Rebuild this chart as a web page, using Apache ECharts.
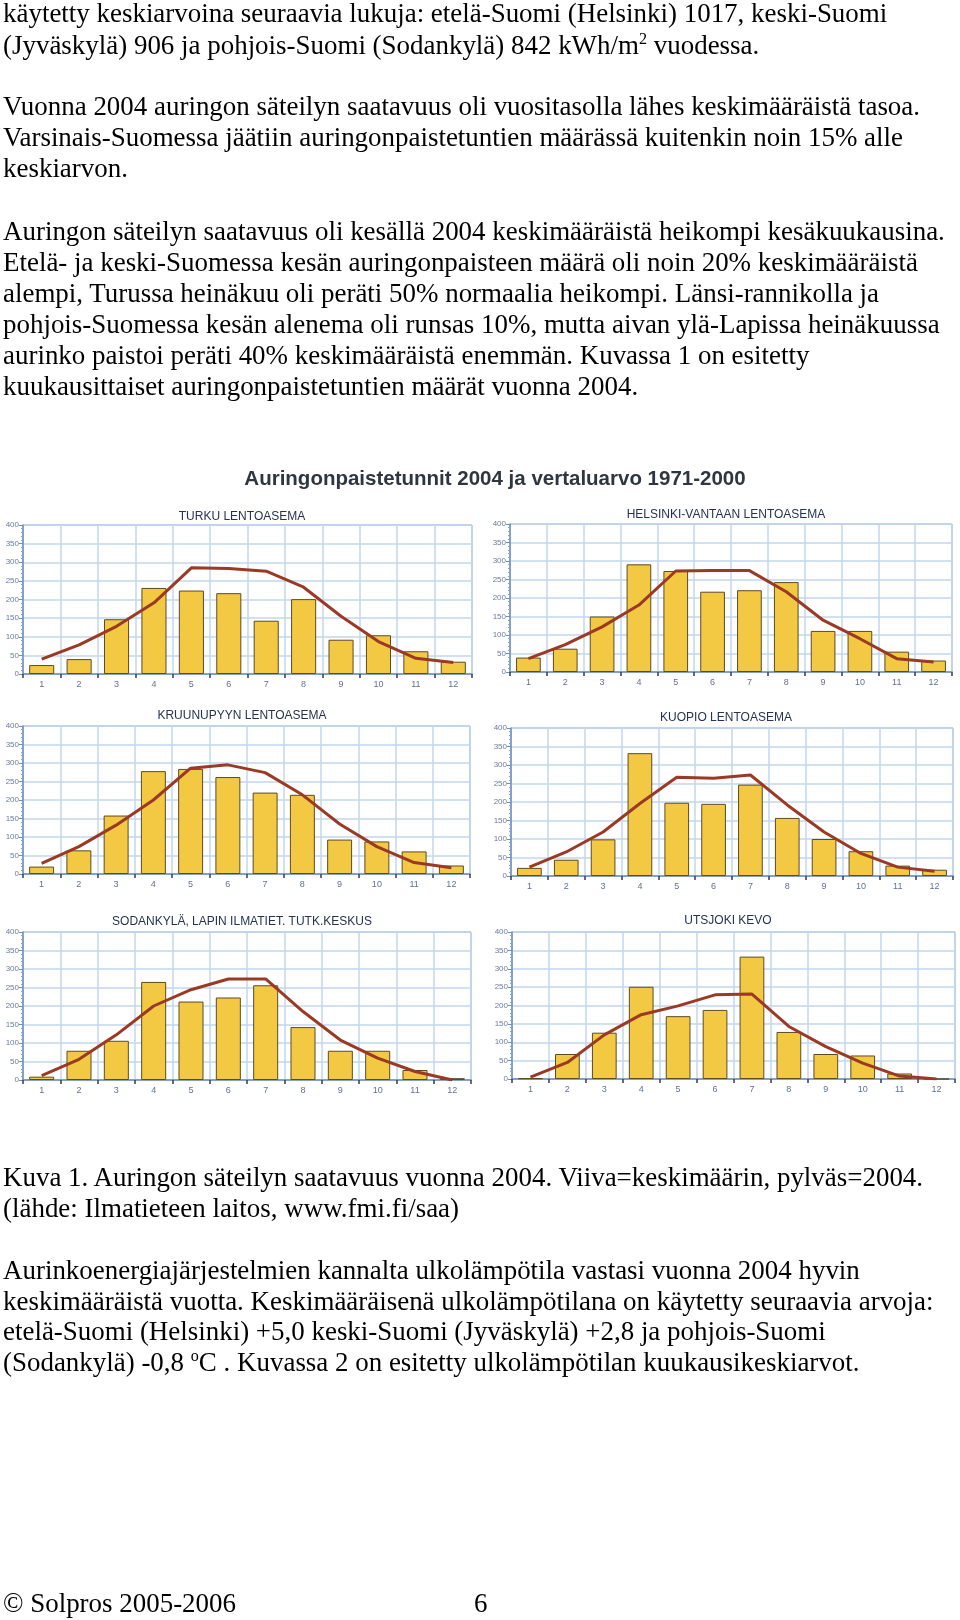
<!DOCTYPE html>
<html>
<head>
<meta charset="utf-8">
<script src="https://cdn.jsdelivr.net/npm/echarts@6/dist/echarts.min.js"></script>
<style>
  html, body { margin: 0; padding: 0; background: #fff; }
  #page { position: relative; width: 960px; height: 1620px; overflow: hidden; }
  #chart { position: absolute; left: 0; top: 0; width: 960px; height: 1620px; }
  .ln { position: absolute; left: 3px; white-space: nowrap; font-family: "Liberation Serif", "DejaVu Serif", serif; color: #000; line-height: 30px; height: 30px; }
  .ln sup { font-size: 60%; line-height: 0; vertical-align: 0.6em; }
</style>
</head>
<body>
<div id="page">
  <div id="chart"></div>
</div>
<script>
// ---------- data ----------
const months = ['1','2','3','4','5','6','7','8','9','10','11','12'];
const yTicks = [0, 50, 100, 150, 200, 250, 300, 350, 400];

const mainTitle = 'Auringonpaistetunnit 2004 ja vertaluarvo 1971-2000';
const stations = ['TURKU LENTOASEMA', 'HELSINKI-VANTAAN LENTOASEMA', 'KRUUNUPYYN LENTOASEMA',
                  'KUOPIO LENTOASEMA', 'SODANKYLÄ, LAPIN ILMATIET. TUTK.KESKUS', 'UTSJOKI KEVO'];

// bars = 2004 sunshine hours, line = 1971-2000 mean
const turku2004     = [24, 40, 147, 231, 224, 217, 143, 201, 92, 104, 61, 33];
const turkuMean     = [40, 78, 128, 191, 285, 283, 276, 233, 155, 87, 42, 31];
const helsinki2004  = [39, 63, 150, 291, 273, 217, 221, 243, 111, 111, 55, 31];
const helsinkiMean  = [36, 74, 122, 181, 273, 274, 274, 217, 140, 90, 36, 27];
const kruunupyy2004 = [20, 64, 158, 278, 284, 262, 220, 214, 93, 88, 61, 23];
const kruunupyyMean = [29, 74, 132, 200, 286, 295, 274, 214, 135, 74, 31, 17];
const kuopio2004    = [22, 44, 99, 332, 198, 195, 247, 157, 100, 67, 28, 17];
const kuopioMean    = [24, 65, 119, 196, 267, 264, 273, 192, 119, 61, 24, 13];
const sodankyla2004 = [9, 79, 106, 265, 212, 223, 256, 143, 79, 79, 27, 5];
const sodankylaMean = [12, 56, 122, 200, 244, 273, 273, 185, 108, 59, 23, 0];
const utsjoki2004   = [2, 68, 126, 251, 171, 188, 333, 128, 68, 64, 15, 0];
const utsjokiMean   = [5, 45, 120, 175, 199, 229, 231, 143, 88, 43, 8, 0];

const bars2004 = [turku2004, helsinki2004, kruunupyy2004, kuopio2004, sodankyla2004, utsjoki2004];
const means = [turkuMean, helsinkiMean, kruunupyyMean, kuopioMean, sodankylaMean, utsjokiMean];

// ---------- document text ----------
const textTop = [
  'käytetty keskiarvoina seuraavia lukuja: etelä-Suomi (Helsinki) 1017, keski-Suomi',
  '(Jyväskylä) 906 ja pohjois-Suomi (Sodankylä) 842 kWh/m^2^ vuodessa.',
  'Vuonna 2004 auringon säteilyn saatavuus oli vuositasolla lähes keskimääräistä tasoa.',
  'Varsinais-Suomessa jäätiin auringonpaistetuntien määrässä kuitenkin noin 15% alle',
  'keskiarvon.',
  'Auringon säteilyn saatavuus oli kesällä 2004 keskimääräistä heikompi kesäkuukausina.',
  'Etelä- ja keski-Suomessa kesän auringonpaisteen määrä oli noin 20% keskimääräistä',
  'alempi, Turussa heinäkuu oli peräti 50% normaalia heikompi. Länsi-rannikolla ja',
  'pohjois-Suomessa kesän alenema oli runsas 10%, mutta aivan ylä-Lapissa heinäkuussa',
  'aurinko paistoi peräti 40% keskimääräistä enemmän. Kuvassa 1 on esitetty',
  'kuukausittaiset auringonpaistetuntien määrät vuonna 2004.'
];
const textBottom = [
  'Kuva 1. Auringon säteilyn saatavuus vuonna 2004. Viiva=keskimäärin, pylväs=2004.',
  '(lähde: Ilmatieteen laitos, www.fmi.fi/saa)',
  'Aurinkoenergiajärjestelmien kannalta ulkolämpötila vastasi vuonna 2004 hyvin',
  'keskimääräistä vuotta. Keskimääräisenä ulkolämpötilana on käytetty seuraavia arvoja:',
  'etelä-Suomi (Helsinki) +5,0 keski-Suomi (Jyväskylä) +2,8 ja pohjois-Suomi',
  '(Sodankylä) -0,8 ^o^C . Kuvassa 2 on esitetty ulkolämpötilan kuukausikeskiarvot.'
];
const footerLeft = '© Solpros 2005-2006';
const footerPage = '6';

// ---------- layout ----------
const topCenters = [13, 45, 106, 137, 168, 231, 262, 293, 324, 355, 386];
const bottomCenters = [1177, 1208, 1270, 1301, 1331, 1362];
const footerCenter = 1603;

// fit font size to reference line width
const cv = document.createElement('canvas').getContext('2d');
cv.font = '100px "Liberation Serif"';
const refW = cv.measureText(textTop[5]).width;
const fontPx = 100 * 942 / refW;

const page = document.getElementById('page');
function esc(s) { return s.replace(/&/g,'&amp;').replace(/</g,'&lt;'); }
function addLine(txt, cy, left) {
  const d = document.createElement('div');
  d.className = 'ln';
  d.style.fontSize = fontPx + 'px';
  d.style.top = (cy - 15) + 'px';
  if (left !== undefined) d.style.left = left + 'px';
  const parts = esc(txt).split('^');
  let html = '';
  parts.forEach((p, i) => { html += (i % 2 === 1) ? '<sup>' + p + '</sup>' : p; });
  d.innerHTML = html;
  page.appendChild(d);
}
textTop.forEach((t, i) => addLine(t, topCenters[i]));
textBottom.forEach((t, i) => addLine(t, bottomCenters[i]));
addLine(footerLeft, footerCenter);
addLine(footerPage, footerCenter, 474);

// ---------- chart ----------
const grids = [
  { left: 23,  top: 525, width: 449, height: 149 },
  { left: 510, top: 524, width: 442, height: 148 },
  { left: 23,  top: 726, width: 447, height: 148 },
  { left: 511, top: 728, width: 442, height: 148 },
  { left: 23,  top: 932, width: 448, height: 148 },
  { left: 512, top: 932, width: 443, height: 147 }
];
const subPos = [[237, 506], [721, 504], [237, 705], [721, 707], [237, 911], [723, 910]];

const titles = [{
  text: mainTitle, left: 490, top: 464, textAlign: 'center',
  textStyle: { fontFamily: 'Liberation Sans, Arial, sans-serif', fontWeight: 'bold', fontSize: 20.5, color: '#30363f' }
}];
stations.forEach((s, i) => titles.push({
  text: s, left: subPos[i][0], top: subPos[i][1], textAlign: 'center',
  textStyle: { fontFamily: 'Liberation Sans, Arial, sans-serif', fontWeight: 'normal', fontSize: 12, color: '#26334f' }
}));

const gridCfg = grids.map(g => Object.assign({ show: true, borderColor: '#7f98bd', borderWidth: 1, containLabel: false }, g));
const xAxes = grids.map((g, i) => ({
  type: 'category', gridIndex: i, data: months, boundaryGap: true,
  axisLine: { lineStyle: { color: '#6f8fbf', width: 1.5 } },
  axisTick: { show: true, length: 4, inside: false, lineStyle: { color: '#2f3c55', width: 1.5 } },
  axisLabel: { fontSize: 9, color: '#5f7194', margin: 6, fontFamily: 'Liberation Sans, Arial, sans-serif' },
  splitLine: { show: true, lineStyle: { color: '#c3d7ee', width: 1.5 } }
}));
const yAxes = grids.map((g, i) => ({
  type: 'value', gridIndex: i, min: yTicks[0], max: yTicks[yTicks.length - 1], interval: yTicks[1] - yTicks[0],
  axisLine: { show: true, lineStyle: { color: '#6f8fbf', width: 1.5 } },
  axisTick: { show: true, length: 4, lineStyle: { color: '#6f8fbf' } },
  minorTick: { show: true, splitNumber: 5, length: 2, lineStyle: { color: '#8aa3c8' } },
  axisLabel: { fontSize: 8, color: '#6a7b99', margin: 4, fontFamily: 'Liberation Sans, Arial, sans-serif' },
  splitLine: { show: true, lineStyle: { color: '#c3d7ee', width: 1.5 } }
}));
const series = [];
grids.forEach((g, i) => {
  series.push({
    type: 'bar', xAxisIndex: i, yAxisIndex: i, data: bars2004[i], barWidth: '67%',
    itemStyle: { color: '#f3c843', borderColor: '#5b4c24', borderWidth: 1 }, z: 2
  });
  series.push({
    type: 'line', xAxisIndex: i, yAxisIndex: i, data: means[i], symbol: 'none', smooth: false,
    lineStyle: { color: '#9a3a24', width: 3 }, z: 3
  });
});

const chart = echarts.init(document.getElementById('chart'), null, { renderer: 'canvas' });
chart.setOption({
  animation: false,
  backgroundColor: 'transparent',
  title: titles,
  grid: gridCfg,
  xAxis: xAxes,
  yAxis: yAxes,
  series: series
});
</script>
</body>
</html>
